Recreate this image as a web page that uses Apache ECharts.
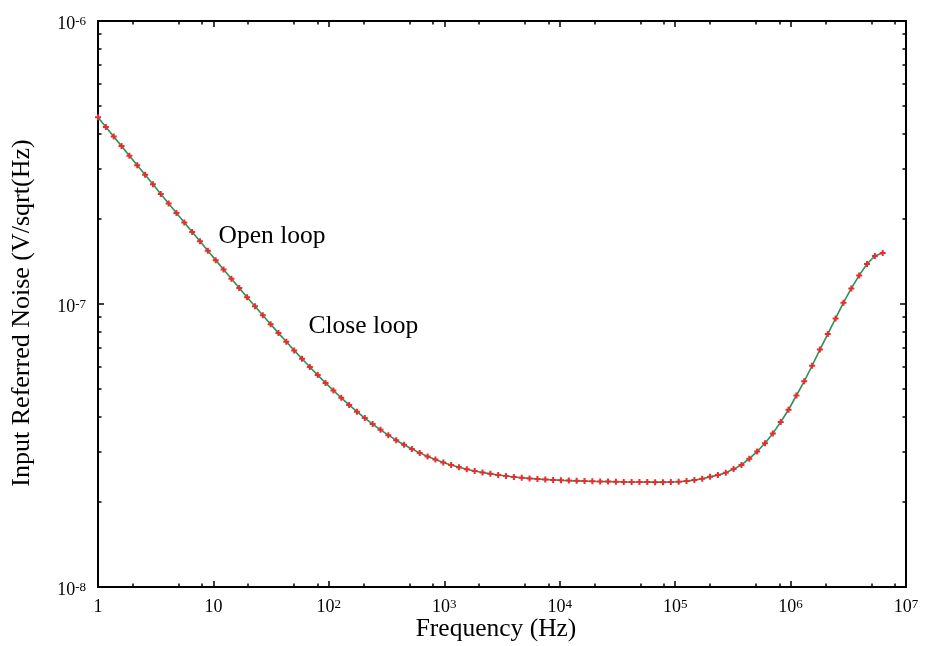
<!DOCTYPE html>
<html>
<head>
<meta charset="utf-8">
<script src="https://cdn.jsdelivr.net/npm/echarts@6/dist/echarts.min.js"></script>
<style>
  html, body { margin: 0; padding: 0; background: #ffffff; }
  #chart { width: 930px; height: 646px; }
</style>
</head>
<body>
<div id="chart"></div>
<script>
// Frequency grid of the noise sweep (Hz), log-spaced up to ~6.28 MHz
const freqHz = [
  1, 1.169, 1.368, 1.599, 1.870, 2.187, 2.558, 2.991, 3.498, 4.091,
  4.784, 5.595, 6.543, 7.652, 8.948, 10.46, 12.24, 14.31, 16.74, 19.57,
  22.89, 26.77, 31.30, 36.61, 42.81, 50.07, 58.55, 68.47, 80.07, 93.64,
  109.5, 128.1, 149.8, 175.1, 204.8, 239.5, 280.1, 327.6, 383.1, 448.0,
  523.9, 612.7, 716.5, 838.0, 979.9, 1146, 1340, 1567, 1833, 2143,
  2507, 2931, 3428, 4009, 4688, 5483, 6412, 7498, 8769, 10250,
  11990, 14020, 16400, 19180, 22430, 26230, 30680, 35870, 41950, 49060,
  57380, 67100, 78470, 91760, 107300, 125500, 146800, 171600, 200700, 234700,
  274500, 321000, 375400, 439000, 513400, 600400, 702200, 821100, 960300, 1123000,
  1313000, 1536000, 1796000, 2100000, 2456000, 2873000, 3359000, 3929000, 4594000, 5373000,
  6283000
];

// Input referred noise density (V/sqrt(Hz)) at each frequency
const noiseVrtHz = [
  4.566e-7, 4.223e-7, 3.906e-7, 3.613e-7, 3.343e-7, 3.092e-7, 2.861e-7, 2.647e-7, 2.449e-7, 2.267e-7,
  2.098e-7, 1.942e-7, 1.798e-7, 1.665e-7, 1.542e-7, 1.429e-7, 1.324e-7, 1.228e-7, 1.139e-7, 1.057e-7,
  9.814e-8, 9.119e-8, 8.479e-8, 7.892e-8, 7.352e-8, 6.856e-8, 6.402e-8, 5.987e-8, 5.608e-8, 5.261e-8,
  4.946e-8, 4.660e-8, 4.400e-8, 4.165e-8, 3.953e-8, 3.763e-8, 3.592e-8, 3.439e-8, 3.302e-8, 3.181e-8,
  3.073e-8, 2.978e-8, 2.894e-8, 2.821e-8, 2.756e-8, 2.700e-8, 2.651e-8, 2.608e-8, 2.571e-8, 2.539e-8,
  2.511e-8, 2.487e-8, 2.466e-8, 2.448e-8, 2.433e-8, 2.420e-8, 2.408e-8, 2.399e-8, 2.390e-8, 2.383e-8,
  2.377e-8, 2.372e-8, 2.367e-8, 2.363e-8, 2.360e-8, 2.357e-8, 2.354e-8, 2.352e-8, 2.351e-8, 2.349e-8,
  2.348e-8, 2.347e-8, 2.347e-8, 2.350e-8, 2.356e-8, 2.367e-8, 2.386e-8, 2.414e-8, 2.450e-8, 2.485e-8,
  2.535e-8, 2.610e-8, 2.700e-8, 2.840e-8, 3.010e-8, 3.220e-8, 3.490e-8, 3.830e-8, 4.230e-8, 4.750e-8,
  5.330e-8, 6.050e-8, 6.900e-8, 7.830e-8, 8.890e-8, 1.011e-7, 1.135e-7, 1.262e-7, 1.384e-7, 1.478e-7,
  1.514e-7
];

// Axis ticks and their labels
const xMajorTicks = [1, 10, 100, 1e3, 1e4, 1e5, 1e6, 1e7];
const xTickLabels = ['{b|1}', '{b|10}', '{b|10}{s|2}', '{b|10}{s|3}', '{b|10}{s|4}', '{b|10}{s|5}', '{b|10}{s|6}', '{b|10}{s|7}'];
const xMinorTicks = [2, 5, 8, 20, 50, 80, 200, 500, 800, 2e3, 5e3, 8e3, 2e4, 5e4, 8e4,
                     2e5, 5e5, 8e5, 2e6, 5e6, 8e6];
const yMajorTicks = [1e-8, 1e-7, 1e-6];
const yTickLabels = ['{b|10}{s|-8}', '{b|10}{s|-7}', '{b|10}{s|-6}'];
const yMinorTicks = [2e-8, 3e-8, 4e-8, 5e-8, 6e-8, 7e-8, 8e-8, 9e-8,
                     2e-7, 3e-7, 4e-7, 5e-7, 6e-7, 7e-7, 8e-7, 9e-7];

const xTitle = 'Frequency (Hz)';
const yTitle = 'Input Referred Noise (V/sqrt(Hz)';
const noteTexts = ['Open loop', 'Close loop'];

const SERIF = '"Liberation Serif", "DejaVu Serif", serif';
const INK = '#000000';

const rich = {
  b: { fontFamily: SERIF, fontSize: 18, lineHeight: 18, padding: [4, 0, 0, 0], verticalAlign: 'bottom', color: INK },
  s: { fontFamily: SERIF, fontSize: 13, lineHeight: 13, padding: [0, 0, 9, 0], verticalAlign: 'top', color: INK }
};

function labelLookup(values, labels) {
  return function (v) {
    const i = values.findIndex(t => Math.abs(Math.log10(t) - Math.log10(v)) < 1e-6);
    return i < 0 ? '' : labels[i];
  };
}

function logAxis(kind, position, ticks, len, extra) {
  const isX = kind === 'x';
  return Object.assign({
    type: 'log',
    logBase: 10,
    gridIndex: 0,
    position: position,
    min: isX ? 1 : 1e-8,
    max: isX ? 1e7 : 1e-6,
    splitLine: { show: false },
    axisLine: { show: false, onZero: false },
    axisTick: { show: true, inside: true, length: len, customValues: ticks,
                lineStyle: { color: INK, width: 1.5 } },
    axisLabel: { show: false },
    silent: true
  }, extra || {});
}

const frameLine = { show: true, onZero: false, lineStyle: { color: INK, width: 2 } };

const chart = echarts.init(document.getElementById('chart'), null, { renderer: 'canvas' });

chart.setOption({
  animation: false,
  backgroundColor: '#ffffff',
  grid: { left: 98, right: 24, top: 21, bottom: 59, containLabel: false, outerBoundsMode: 'none' },
  xAxis: [
    logAxis('x', 'bottom', xMajorTicks, 6, {
      axisLine: frameLine,
      axisLabel: {
        show: true, margin: 11, customValues: xMajorTicks,
        formatter: labelLookup(xMajorTicks, xTickLabels), rich: rich
      },
      name: xTitle,
      nameLocation: 'middle',
      nameGap: 29,
      nameMoveOverlap: false,
      nameTextStyle: { fontFamily: SERIF, fontSize: 25.5, color: INK, padding: [0, 12, 0, 0] }
    }),
    logAxis('x', 'bottom', xMinorTicks, 3.5),
    logAxis('x', 'top', xMajorTicks, 6, { axisLine: frameLine }),
    logAxis('x', 'top', xMinorTicks, 3.5)
  ],
  yAxis: [
    logAxis('y', 'left', yMajorTicks, 6, {
      axisLine: frameLine,
      axisLabel: {
        show: true, margin: 12, customValues: yMajorTicks, padding: [6, 0, 0, 0],
        formatter: labelLookup(yMajorTicks, yTickLabels), rich: rich
      },
      name: yTitle,
      nameLocation: 'middle',
      nameGap: 63,
      nameRotate: 90,
      nameMoveOverlap: false,
      nameTextStyle: { fontFamily: SERIF, fontSize: 26, color: INK, padding: [0, 18, 0, 0] }
    }),
    logAxis('y', 'left', yMinorTicks, 3.5),
    logAxis('y', 'right', yMajorTicks, 6, { axisLine: frameLine }),
    logAxis('y', 'right', yMinorTicks, 3.5)
  ],
  series: [{
    type: 'line',
    xAxisIndex: 0,
    yAxisIndex: 0,
    data: freqHz.map((f, i) => [f, noiseVrtHz[i]]),
    smooth: false,
    showSymbol: true,
    symbol: 'path://M2,0H4V2H6V4H4V6H2V4H0V2H2Z',
    symbolSize: 6,
    itemStyle: { color: '#ee2a2e' },
    lineStyle: { color: '#2b9355', width: 1.6 },
    z: 3
  }]
});

// Text notes anchored in data space (frequency, noise)
const noteAnchors = [[11.07, 1.73e-7], [66.6, 8.32e-8]];
chart.setOption({
  graphic: noteTexts.map((t, i) => {
    const p = chart.convertToPixel({ xAxisIndex: 0, yAxisIndex: 0 }, noteAnchors[i]);
    return {
      type: 'text',
      x: p[0],
      y: p[1],
      silent: true,
      style: {
        text: t,
        fill: INK,
        font: '25.5px ' + SERIF,
        textAlign: 'left',
        textVerticalAlign: 'middle'
      }
    };
  })
});
</script>
</body>
</html>
